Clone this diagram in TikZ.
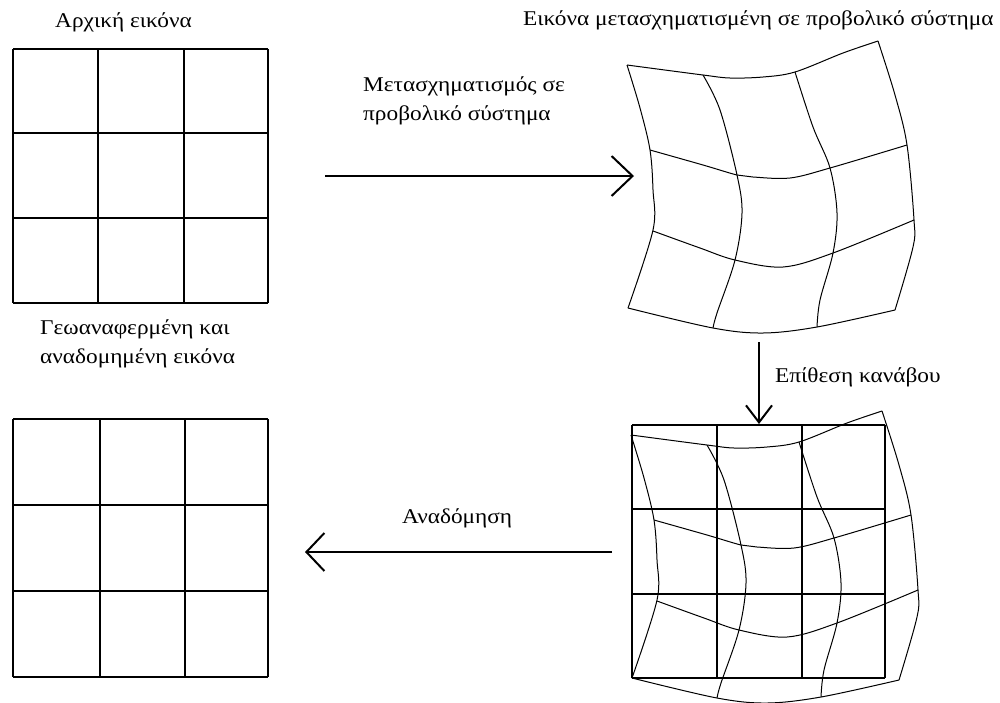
\documentclass[tikz,border=0pt]{standalone}
\usepackage{fontspec}
\setmainfont{Liberation Serif}
\newfontfamily\lblfont[FakeStretch=1.11]{Liberation Serif}
\usetikzlibrary{arrows.meta}
\begin{document}
\begin{tikzpicture}[x=1pt,y=-1pt,
  lbl/.style={anchor=base west,inner sep=0pt,font=\lblfont\fontsize{21}{28.5}\selectfont,align=left},
  gridline/.style={line width=1.3pt},
  warp/.style={line width=1pt,smooth,tension=0.55},
  flow/.style={line width=2.2pt}]
\useasboundingbox (0,0) rectangle (1000,702);
\fill[white] (0,0) rectangle (1000,702);
% straight grids
\newcommand{\sqgrid}[8]{%
  \foreach \xx in {#1,#2,#3,#4} \draw[gridline] (\xx,#5) -- (\xx,#8);
  \foreach \yy in {#5,#6,#7,#8} \draw[gridline] (#1,\yy) -- (#4,\yy);}
\sqgrid{13}{98}{184}{268}{49}{133}{218}{303}
\sqgrid{13}{100}{185}{268}{419}{505}{591}{677}
\sqgrid{632}{717}{802}{885}{425}{509}{594}{678}
% warped grid
\newcommand{\warpgrid}{%
  \draw[warp] plot coordinates {(627,65) (703,75) (730,78) (763,77) (795,72) (843,53) (878,41)};
  \draw[warp] plot coordinates {(628,308) (713,328) (763,333) (817,327) (895,310)};
  \draw[warp] plot coordinates {(627,65) (640,108) (650,150) (653,190) (653,230) (628,308)};
  \draw[warp] plot coordinates {(878,41) (895,95) (907,145) (914,220) (913,247) (895,310)};
  \draw[warp] plot coordinates {(650,150) (703,165) (737,175) (753,177) (790,178) (830,168) (907,145)};
  \draw[warp] plot coordinates {(653,231) (700,248) (735,260) (783,267) (833,253) (914,220)};
  \draw[warp] plot coordinates {(703,75) (720,110) (737,175) (742,213) (735,260) (717,313) (713,328)};
  \draw[warp] plot coordinates {(795,72) (813,127) (830,168) (837,213) (833,253) (820,300) (817,327)};}
\warpgrid
\begin{scope}[shift={(4,370)}]
\warpgrid
\end{scope}
% labels
\node[lbl] (t1) at (55,27) {Αρχική εικόνα};
\node[lbl] (t2) at (523,25) {Εικόνα μετασχηματισμένη σε προβολικό σύστημα};
\node[lbl] (t3) at (363,120) {Μετασχηματισμός σε\\προβολικό σύστημα};
\node[lbl] (t4) at (775,382) {Επίθεση κανάβου};
\node[lbl] (t5) at (402,523) {Αναδόμηση};
\node[lbl] (t6) at (40,363) {Γεωαναφερμένη και\\αναδομημένη εικόνα};
% connectors
\coordinate (a1s) at (325,176);
\coordinate (a1e) at (634,176);
\coordinate (a2s) at (759,342);
\coordinate (a2e) at (759,424);
\coordinate (a3s) at (612,552);
\coordinate (a3e) at (305,552);
\draw[flow,-{Straight Barb[length=21pt,width=40pt,line width=2pt]}] (a1s) -- (a1e);
\draw[flow,-{Straight Barb[length=17pt,width=26pt,line width=2pt]}] (a2s) -- (a2e);
\draw[flow,-{Straight Barb[length=18pt,width=38pt,line width=2pt]}] (a3s) -- (a3e);
\end{tikzpicture}
\end{document}
